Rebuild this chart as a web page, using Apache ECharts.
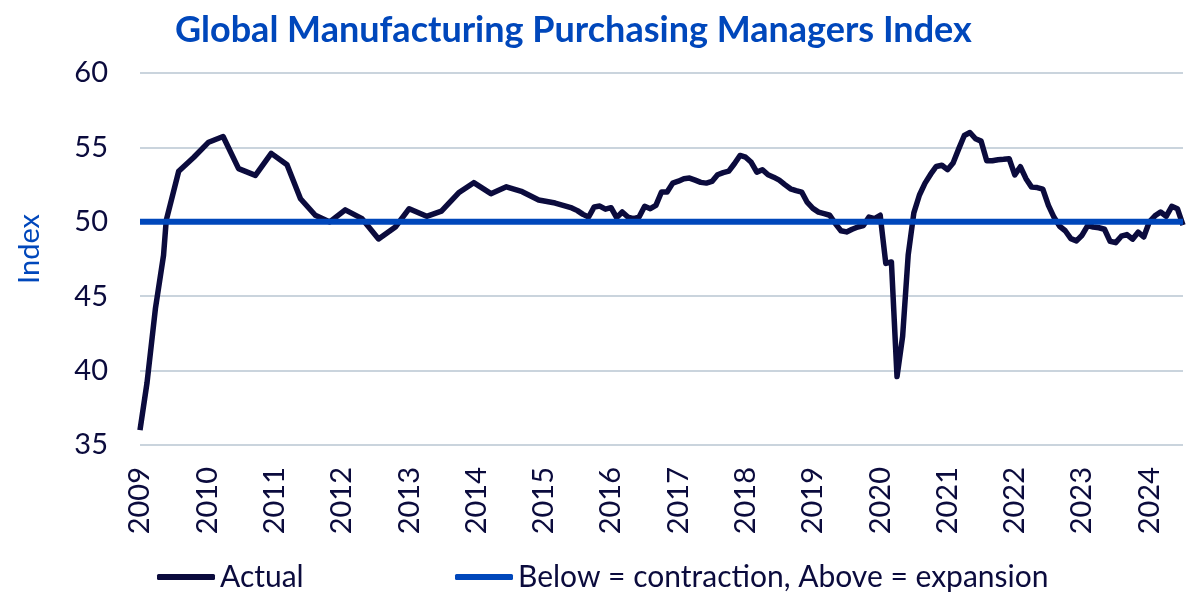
<!DOCTYPE html>
<html>
<head>
<meta charset="utf-8">
<script src="https://cdn.jsdelivr.net/npm/echarts@6/dist/echarts.min.js"></script>
<style>
  html, body { margin: 0; padding: 0; background: #fff; }
  #main { width: 1200px; height: 601px; }
</style>
</head>
<body>
<div id="main"></div>
<script>
// 2009 - mid 2015: the source line only has a vertex roughly every 2-3 months
const vertexYears = [
  2009.00, 2009.105, 2009.23, 2009.35, 2009.39, 2009.575, 2009.80, 2010.02,
  2010.235, 2010.465, 2010.715, 2010.95, 2011.185, 2011.385, 2011.605, 2011.82,
  2012.05, 2012.30, 2012.545, 2012.795, 2013.00, 2013.26, 2013.48, 2013.735,
  2013.96, 2014.215, 2014.445, 2014.68, 2014.925, 2015.17
];
const vertexPmi = [
  36.0, 39.2, 44.2, 47.75, 50.1, 53.4, 54.34, 55.35,
  55.73, 53.57, 53.12, 54.6, 53.83, 51.55, 50.44, 49.99,
  50.8, 50.21, 48.85, 49.65, 50.88, 50.37, 50.72, 51.95,
  52.63, 51.89, 52.35, 52.02, 51.46, 51.26
];

// monthly readings from Jun 2015 to Jul 2024
const monthlyStartYear = 2015;
const monthlyStartMonth = 6;
const monthlyPmi = [
  50.93, 50.75, 50.5, 50.32, 51.0, 51.06, 50.85,
  50.95, 50.28, 50.66, 50.32, 50.21, 50.32, 51.04, 50.88, 51.1, 52.0, 52.0, 52.6,
  52.73, 52.9, 52.94, 52.8, 52.65, 52.6, 52.71, 53.16, 53.3, 53.4, 53.9, 54.46,
  54.34, 54.0, 53.34, 53.5, 53.16, 53.0, 52.8, 52.5, 52.22, 52.1, 52.0, 51.3,
  50.9, 50.65, 50.55, 50.44, 49.88, 49.4, 49.32, 49.5, 49.65, 49.75, 50.32, 50.21,
  50.44, 47.2, 47.3, 39.6, 42.3, 47.8, 50.6, 51.8, 52.6, 53.2, 53.72, 53.8,
  53.5, 53.95, 54.9, 55.8, 56.0, 55.58, 55.42, 54.1, 54.1, 54.17, 54.2, 54.24,
  53.15, 53.7, 52.9, 52.33, 52.3, 52.2, 51.1, 50.3, 49.7, 49.4, 48.87, 48.72,
  49.1, 49.75, 49.65, 49.6, 49.5, 48.69, 48.6, 49.03, 49.14, 48.83, 49.3, 48.98,
  50.0, 50.4, 50.66, 50.37, 51.04, 50.88, 49.77
];

const thresholdValue = 50;
const yearMin = 2009;
const yearMax = 2024.5;
const yTicks = [35, 40, 45, 50, 55, 60];

const navy = '#0B0B3D';
const blue = '#0047BB';
const font = 'Lato';

const actualData = [];
for (let k = 0; k < vertexYears.length; k++) {
  actualData.push([vertexYears[k], vertexPmi[k]]);
}
for (let k = 0; k < monthlyPmi.length; k++) {
  const year = monthlyStartYear + (monthlyStartMonth - 1 + k) / 12;
  actualData.push([year, monthlyPmi[k]]);
}
const thresholdData = [[yearMin, thresholdValue], [yearMax, thresholdValue]];

const legendBase = {
  top: 557,
  icon: 'roundRect',
  itemWidth: 58,
  itemHeight: 6,
  itemGap: 4,
  textStyle: { color: navy, fontFamily: font, fontSize: 30 }
};

const chart = echarts.init(document.getElementById('main'));
const option = {
  animation: false,
  title: {
    text: 'Global Manufacturing Purchasing Managers Index',
    left: 170,
    top: 7,
    textStyle: { color: blue, fontFamily: font, fontWeight: 'bold', fontSize: 36 }
  },
  legend: [
    Object.assign({}, legendBase, { data: ['Actual'], left: 152 }),
    Object.assign({}, legendBase, { data: ['Below = contraction, Above = expansion'], left: 450 })
  ],
  grid: {
    left: 140,
    right: 17,
    top: 73,
    bottom: 156
  },
  xAxis: {
    type: 'value',
    min: yearMin,
    max: yearMax,
    interval: 1,
    axisLine: { show: false },
    axisTick: { show: false },
    splitLine: { show: false },
    axisLabel: {
      rotate: 90,
      margin: 22,
      color: navy,
      fontFamily: font,
      fontSize: 29,
      formatter: function (v) { return v % 1 === 0 ? String(v) : ''; }
    }
  },
  yAxis: {
    type: 'value',
    min: yTicks[0],
    max: yTicks[yTicks.length - 1],
    interval: 5,
    name: 'Index',
    nameLocation: 'middle',
    nameGap: 96,
    nameTextStyle: { color: blue, fontFamily: font, fontSize: 29, padding: [0, 0, 0, 20] },
    axisLine: { show: false },
    axisTick: { show: false },
    splitLine: { lineStyle: { color: '#B9C6D2', width: 1.5 } },
    axisLabel: { margin: 32, color: navy, fontFamily: font, fontSize: 29 }
  },
  series: [
    {
      name: 'Actual',
      type: 'line',
      data: actualData,
      symbol: 'none',
      lineStyle: { color: navy, width: 5.5, join: 'round' },
      itemStyle: { color: navy },
      z: 2
    },
    {
      name: 'Below = contraction, Above = expansion',
      type: 'line',
      data: thresholdData,
      symbol: 'none',
      lineStyle: { color: blue, width: 6 },
      itemStyle: { color: blue },
      z: 3
    }
  ]
};
chart.setOption(option);
</script>
</body>
</html>
